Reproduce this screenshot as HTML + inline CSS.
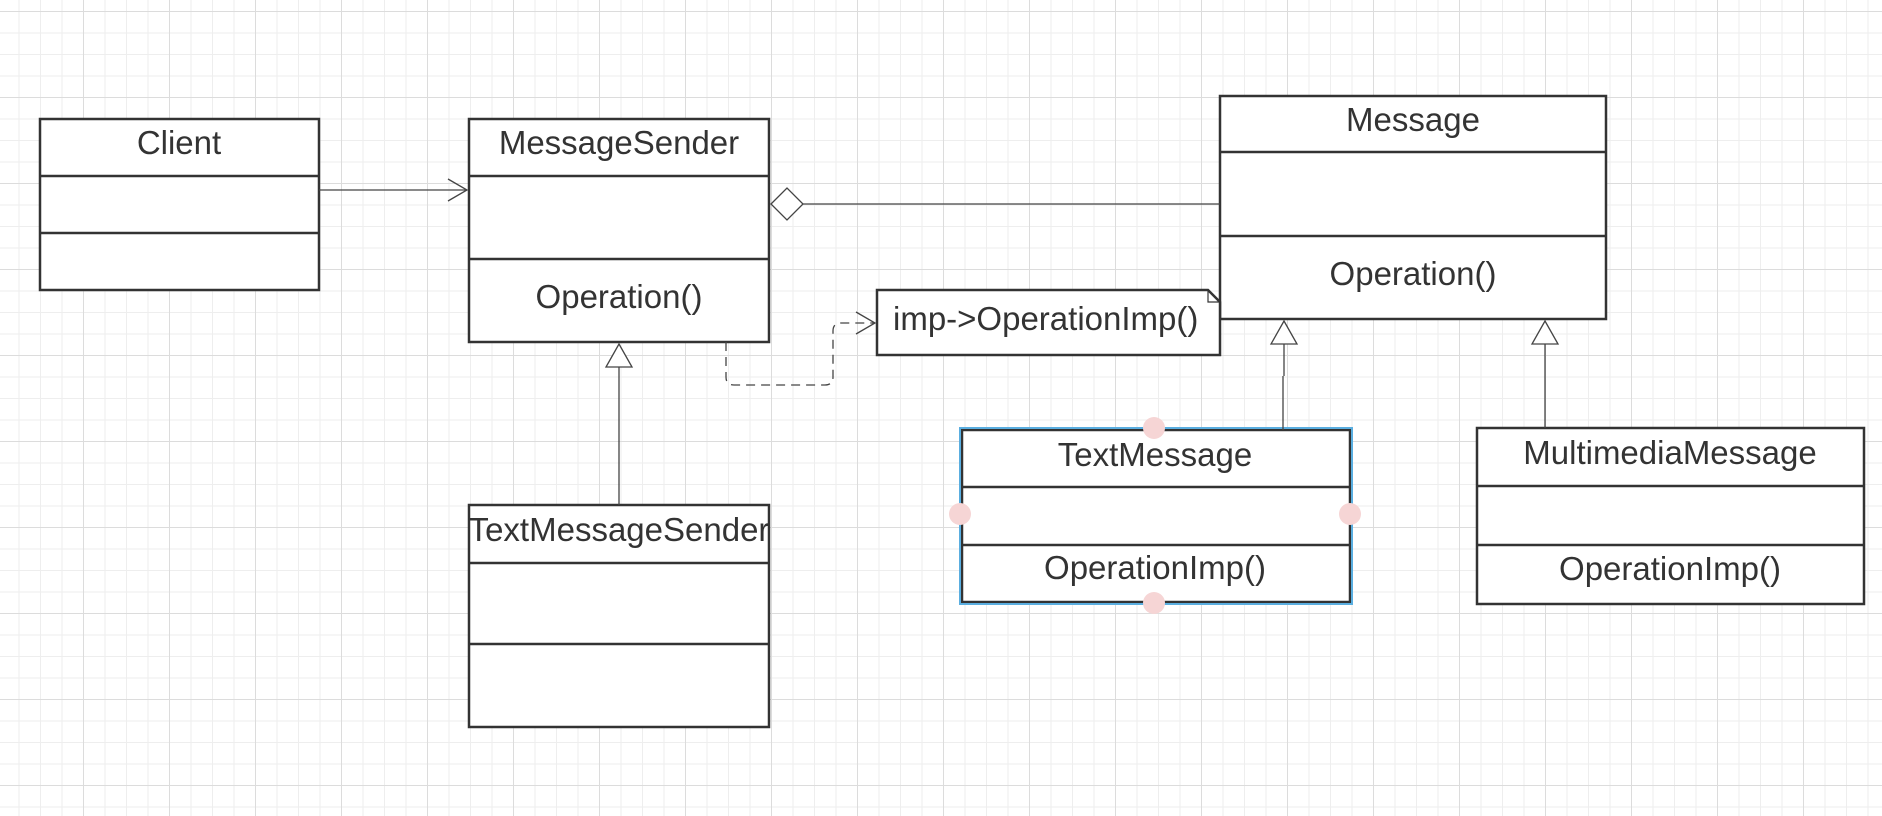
<!DOCTYPE html>
<html><head><style>
html,body{margin:0;padding:0}
body{width:1882px;height:816px;overflow:hidden;background:#fff;
background-image:
linear-gradient(to right,#dcdcdc 1px,transparent 1px),
linear-gradient(to bottom,#dcdcdc 1px,transparent 1px),
linear-gradient(to right,#eeeeee 1px,transparent 1px),
linear-gradient(to bottom,#eeeeee 1px,transparent 1px);
background-size:86px 86px,86px 86px,21.5px 21.5px,21.5px 21.5px;
background-position:-3px 11px,-3px 11px,-3px 11px,-3px 11px;}
svg{position:absolute;left:0;top:0}
text{font-family:"Liberation Sans",Arial,sans-serif;font-size:33px;fill:#333}
</style></head><body>
<svg width="1882" height="816" viewBox="0 0 1882 816">
<g fill="#fff" stroke="#333" stroke-width="2.5">
<!-- Client -->
<rect x="40" y="119" width="279" height="171"/>
<line x1="40" y1="176" x2="319" y2="176"/><line x1="40" y1="233" x2="319" y2="233"/>
<!-- MessageSender -->
<rect x="469" y="119" width="300" height="223"/>
<line x1="469" y1="176" x2="769" y2="176"/><line x1="469" y1="259" x2="769" y2="259"/>
<!-- Message -->
<rect x="1220" y="96" width="386" height="223"/>
<line x1="1220" y1="152" x2="1606" y2="152"/><line x1="1220" y1="236" x2="1606" y2="236"/>
<!-- Note -->
<path d="M877 290 H1208 L1220 302 V355 H877 Z"/>
<path d="M1208 290 V302 H1220" fill="none" stroke-width="1.2"/>
<!-- TextMessageSender -->
<rect x="469" y="505" width="300" height="222"/>
<line x1="469" y1="563" x2="769" y2="563"/><line x1="469" y1="644" x2="769" y2="644"/>
<!-- TextMessage -->
<rect x="962" y="430" width="388" height="172"/>
<line x1="962" y1="487" x2="1350" y2="487"/><line x1="962" y1="545" x2="1350" y2="545"/>
<!-- MultimediaMessage -->
<rect x="1477" y="428" width="387" height="176"/>
<line x1="1477" y1="486" x2="1864" y2="486"/><line x1="1477" y1="545" x2="1864" y2="545"/>
</g>
<!-- selection -->
<rect x="960" y="428" width="392" height="176" fill="none" stroke="#5aaee0" stroke-width="2"/>
<g fill="#f6d5d5"><circle cx="1154" cy="428" r="11"/><circle cx="1154" cy="603" r="11"/><circle cx="960" cy="514" r="11"/><circle cx="1350" cy="514" r="11"/></g>
<!-- connectors -->
<g fill="none" stroke="#444" stroke-width="1.3">
<line x1="319" y1="190" x2="467" y2="190"/>
<path d="M448 179 L467 190 L448 201"/>
<line x1="803" y1="204" x2="1220" y2="204"/>
<path d="M771 204 L787 188 L803 204 L787 220 Z" fill="#fff"/>
<path d="M726 342 V377 Q726 385 734 385 H825 Q833 385 833 377 V331 Q833 323 841 323 H875" stroke-dasharray="9,6"/>
<path d="M856 312 L875 323 L856 334"/>
<line x1="619" y1="367" x2="619" y2="505"/>
<path d="M619 344 L632 367 H606 Z" fill="#fff"/>
<line x1="1284" y1="344" x2="1284" y2="376"/><line x1="1283" y1="376" x2="1283" y2="430"/>
<path d="M1284 321 L1297 344 H1271 Z" fill="#fff"/>
<line x1="1545" y1="344" x2="1545" y2="428"/>
<path d="M1545 321 L1558 344 H1532 Z" fill="#fff"/>
</g>
<g text-anchor="middle">
<text x="179" y="154">Client</text>
<text x="619" y="154">MessageSender</text>
<text x="619" y="308">Operation()</text>
<text x="1413" y="131">Message</text>
<text x="1413" y="285">Operation()</text>
<text x="619" y="541">TextMessageSender</text>
<text x="1155" y="466">TextMessage</text>
<text x="1155" y="579">OperationImp()</text>
<text x="1670" y="464">MultimediaMessage</text>
<text x="1670" y="580">OperationImp()</text>
</g>
<text x="893" y="330">imp-&gt;OperationImp()</text>
</svg>
</body></html>
